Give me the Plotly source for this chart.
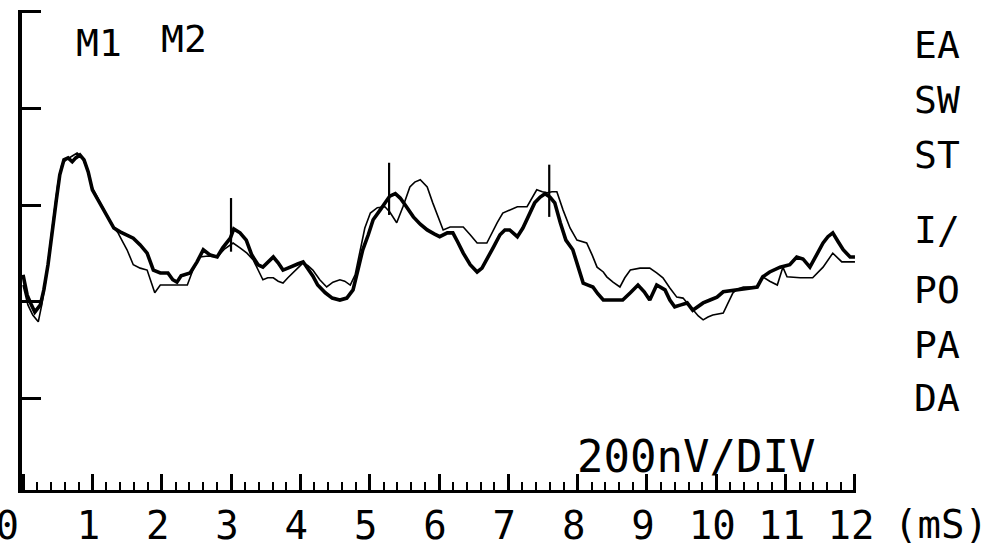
import plotly.graph_objects as go

# ---- data (ms, nV) ----
time_m1 = [0.00, 0.06, 0.12, 0.17, 0.25, 0.30, 0.36, 0.42, 0.48, 0.53, 0.59, 0.65, 0.71, 0.76, 0.82, 0.88, 0.94,
           1.00, 1.11, 1.23, 1.31, 1.40, 1.50, 1.59, 1.69, 1.79, 1.88, 1.98, 2.09, 2.16, 2.22, 2.28, 2.41, 2.51,
           2.60, 2.70, 2.80, 2.88, 2.99, 3.04, 3.13, 3.22, 3.30, 3.39, 3.46, 3.53, 3.61, 3.68, 3.75, 3.82, 3.89,
           3.97, 4.04, 4.11, 4.18, 4.25, 4.36, 4.46, 4.57, 4.67, 4.76, 4.83, 4.90, 4.98, 5.05, 5.15, 5.22, 5.29,
           5.37, 5.44, 5.51, 5.63, 5.73, 5.83, 5.93, 6.01, 6.12, 6.20, 6.27, 6.35, 6.45, 6.55, 6.62, 6.69, 6.78,
           6.88, 6.95, 7.02, 7.13, 7.21, 7.31, 7.38, 7.46, 7.53, 7.60, 7.67, 7.75, 7.83, 7.93, 8.01, 8.08, 8.15,
           8.22, 8.29, 8.37, 8.51, 8.65, 8.76, 8.87, 8.96, 9.04, 9.14, 9.20, 9.26, 9.33, 9.40, 9.49, 9.58, 9.66,
           9.74, 9.81, 9.91, 10.01, 10.10, 10.20, 10.30, 10.44, 10.59, 10.67, 10.77, 10.92, 11.06, 11.16, 11.25,
           11.35, 11.45, 11.54, 11.61, 11.68, 11.76, 11.83, 11.93, 12.00]
amp_m1 = [56, 14, -6, -21, -6, 25, 77, 149, 211, 263, 294, 298, 290, 298, 304, 294, 269,
          232, 205, 174, 153, 145, 139, 132, 118, 101, 66, 60, 60, 46, 41, 54, 60, 83,
          108, 97, 93, 112, 132, 151, 143, 128, 97, 77, 72, 83, 93, 81, 66, 70, 75,
          79, 83, 70, 54, 35, 19, 8, 4, 8, 25, 66, 108, 139, 170, 190, 205, 219,
          224, 215, 201, 176, 161, 149, 141, 135, 143, 143, 124, 101, 77, 62, 70, 87, 112,
          139, 149, 149, 135, 153, 184, 205, 217, 224, 217, 205, 164, 128, 108, 70, 39, 35,
          31, 17, 4, 4, 4, 19, 35, 21, 4, 35, 31, 25, 4, -10, -6, -2, -17,
          -8, -2, 4, 10, 21, 23, 25, 27, 31, 52, 62, 72, 77, 93, 89,
          72, 97, 122, 135, 143, 124, 108, 93, 93]

time_m2 = [0.00, 0.07, 0.14, 0.22, 0.27, 0.33, 0.39, 0.45, 0.50, 0.56, 0.62, 0.71, 0.78, 0.85, 0.92,
           1.00, 1.11, 1.23, 1.31, 1.37, 1.44, 1.50, 1.59, 1.69, 1.79, 1.85, 1.90, 1.98, 2.12, 2.26, 2.37,
           2.45, 2.55, 2.67, 2.80, 2.91, 3.03, 3.13, 3.23, 3.32, 3.39, 3.46, 3.53, 3.61, 3.68, 3.75, 3.82,
           3.89, 3.97, 4.04, 4.11, 4.18, 4.28, 4.38, 4.47, 4.57, 4.64, 4.72, 4.79, 4.86, 4.93, 5.01, 5.11,
           5.22, 5.29, 5.39, 5.48, 5.58, 5.65, 5.73, 5.83, 5.91, 5.99, 6.06, 6.16, 6.26, 6.35, 6.45, 6.55,
           6.69, 6.76, 6.84, 6.92, 7.02, 7.13, 7.27, 7.34, 7.41, 7.49, 7.56, 7.63, 7.70, 7.79, 7.89, 7.99,
           8.13, 8.21, 8.28, 8.37, 8.42, 8.51, 8.61, 8.68, 8.76, 8.90, 9.04, 9.14, 9.23, 9.33, 9.43, 9.52,
           9.59, 9.66, 9.74, 9.81, 9.88, 9.95, 10.10, 10.17, 10.24, 10.31, 10.39, 10.59, 10.67, 10.77, 10.88,
           10.96, 11.02, 11.21, 11.39, 11.54, 11.68, 11.81, 12.00]
amp_m2 = [35, -6, -27, -41, -6, 46, 118, 190, 242, 284, 294, 302, 308, 300, 277,
          236, 205, 174, 153, 143, 124, 108, 77, 70, 66, 39, 19, 35, 35, 35, 35,
          66, 93, 95, 93, 110, 122, 112, 101, 87, 66, 46, 50, 50, 43, 39, 50,
          60, 72, 81, 75, 66, 46, 31, 41, 46, 43, 35, 56, 108, 153, 184, 195,
          197, 186, 164, 197, 238, 248, 253, 238, 205, 176, 149, 155, 155, 155, 139, 122,
          122, 143, 164, 184, 190, 197, 197, 215, 232, 228, 226, 228, 228, 190, 153, 128,
          122, 97, 72, 62, 52, 41, 31, 50, 66, 70, 70, 60, 50, 29, 10, 8,
          -4, -17, -29, -37, -31, -27, -23, -2, 19, 27, 31, 31, 52, 43, 35,
          72, 52, 50, 50, 72, 101, 83, 83]

peak_times = [3.00, 5.28, 7.59]
peak_tops = [215, 288, 284]
peak_bottoms = [104, 180, 176]

x_ticks = list(range(0, 13))
x_tick_labels = [str(t) for t in x_ticks]
y_ticks = [-200, 0, 200, 400, 600]
side_labels = ["EA", "SW", "ST", "I/", "PO", "PA", "DA"]
trace_labels = ["M1", "M2"]
scale_label = "200nV/DIV"
unit_label = "(mS)"

FONT = "DejaVu Sans Mono"
W, H = 996, 548
# plot area in page pixels: x 22..856, y 10..490
L, T = 22, 10
R = W - 856
B = H - 490

def px(x):
    return (x - L) / (W - L - R)

def py(y):
    return (H - B - y) / (H - T - B)

# first label sits half a character left of its tick, as in the printout
shown_labels = [x_tick_labels[0] + "\u00a0"] + x_tick_labels[1:]

fig = go.Figure()
fig.add_trace(go.Scatter(x=time_m2, y=amp_m2, mode="lines",
                         line=dict(color="black", width=1.6), name=trace_labels[1]))
fig.add_trace(go.Scatter(x=time_m1, y=amp_m1, mode="lines",
                         line=dict(color="black", width=3.6), name=trace_labels[0]))

mx, my = [], []
for t, top, bot in zip(peak_times, peak_tops, peak_bottoms):
    mx += [t, t, None]
    my += [bot, top, None]
fig.add_trace(go.Scatter(x=mx, y=my, mode="lines", line=dict(color="black", width=2.2),
                         hoverinfo="skip"))

annotations = []
side_y = [45, 100, 155, 230, 290, 345, 398]
for lab, yy in zip(side_labels, side_y):
    annotations.append(dict(text=lab, x=px(912), y=py(yy), xref="paper", yref="paper",
                            xanchor="left", yanchor="middle", showarrow=False,
                            font=dict(family=FONT, size=38, color="black")))
annotations.append(dict(text=trace_labels[0], x=px(99), y=py(43), xref="paper",
                        yref="paper", xanchor="center", yanchor="middle", showarrow=False,
                        font=dict(family=FONT, size=38, color="black")))
annotations.append(dict(text=trace_labels[1], x=px(184), y=py(39), xref="paper", yref="paper",
                        xanchor="center", yanchor="middle", showarrow=False,
                        font=dict(family=FONT, size=38, color="black")))
annotations.append(dict(text=scale_label, x=px(696), y=py(456), xref="paper", yref="paper",
                        xanchor="center", yanchor="middle", showarrow=False,
                        font=dict(family=FONT, size=44, color="black")))
annotations.append(dict(text=unit_label, x=px(941), y=py(524), xref="paper", yref="paper",
                        xanchor="center", yanchor="middle", showarrow=False,
                        font=dict(family=FONT, size=39, color="black")))

fig.update_layout(
    template="none",
    width=W, height=H,
    margin=dict(l=L, r=R, t=T, b=B, pad=0, autoexpand=False),
    paper_bgcolor="white", plot_bgcolor="white",
    showlegend=False,
    annotations=annotations,
    xaxis=dict(range=[-0.015, 12.015], automargin=False, showgrid=False, zeroline=False,
               showline=True, linecolor="black", linewidth=3,
               tickmode="array", tickvals=x_ticks, ticktext=shown_labels,
               ticks="inside", ticklen=16, tickwidth=2.5, tickcolor="black",
               ticklabelshift=-4, ticklabelstandoff=-1, ticklabeloverflow="allow",
               tickfont=dict(family=FONT, size=39, color="black"),
               minor=dict(dtick=0.2, ticks="inside", ticklen=8, tickwidth=2, tickcolor="black",
                          showgrid=False)),
    yaxis=dict(range=[-389, 604], automargin=False, showgrid=False, zeroline=False, showline=True,
               linecolor="black", linewidth=4,
               tickmode="array", tickvals=y_ticks, showticklabels=False,
               ticks="inside", ticklen=19, tickwidth=3, tickcolor="black"),
)

fig.write_html("out.html", config={"displayModeBar": False},
               post_script="document.body.style.margin='0';")
